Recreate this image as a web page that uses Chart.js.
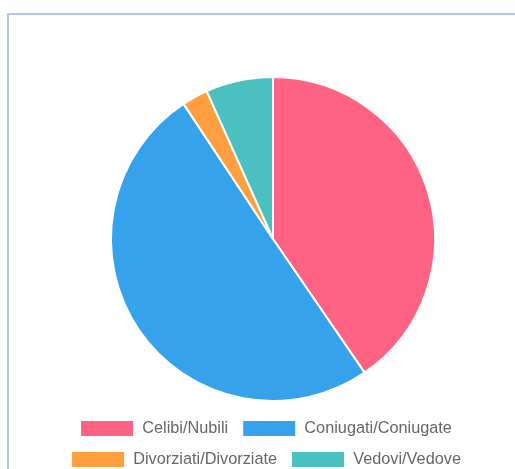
<!DOCTYPE html>
<html>
<head>
<meta charset="utf-8">
<script src="https://cdn.jsdelivr.net/npm/chart.js@4/dist/chart.umd.min.js"></script>
<style>
  html, body { margin: 0; padding: 0; background: #fff; overflow: hidden; }
  .page { position: relative; width: 515px; height: 469px; overflow: hidden; }
  .box {
    position: absolute;
    left: 7px;
    top: 13px;
    width: 700px;
    height: 700px;
    border-top: 2px solid #b4c6e7;
    border-left: 2px solid #b4c6e7;
  }
  #statoCivile { position: absolute; left: 0; top: 0; }
</style>
</head>
<body>
<div class="page">
  <div class="box">
    <canvas id="statoCivile" width="528" height="463" style="width:528px;height:463px"></canvas>
  </div>
</div>
<script>
// stato civile
var labels = ['Celibi/Nubili', 'Coniugati/Coniugate', 'Divorziati/Divorziate', 'Vedovi/Vedove'];
var values = [404, 502, 26, 67];
var colors = ['#ff6384', '#36a2eb', '#ff9f40', '#4bc0c0'];

// legend sits a bit left of the pie centre, as in the old layout
var legendShift = {
    id: 'legendShift',
    afterLayout: function(chart) {
        if (chart.legend) {
            chart.legend.left -= 7;
            chart.legend.right -= 7;
        }
    }
};

var ctx = document.getElementById('statoCivile').getContext('2d');
var pieChart = new Chart(ctx, {
    type: 'pie',
    data: {
        labels: labels,
        datasets: [{
            data: values,
            backgroundColor: colors,
            borderColor: '#fff',
            borderWidth: 2,
            radius: '97.6%'
        }]
    },
    options: {
        responsive: false,
        animation: false,
        layout: {
            padding: { top: 57 }
        },
        plugins: {
            legend: {
                position: 'bottom',
                labels: {
                    boxWidth: 54,
                    boxHeight: 17,
                    padding: 14,
                    color: '#666',
                    font: { family: "'Liberation Sans', Arial, sans-serif", size: 16.3 }
                }
            },
            tooltip: { enabled: false }
        }
    },
    plugins: [legendShift]
});
</script>
</body>
</html>
